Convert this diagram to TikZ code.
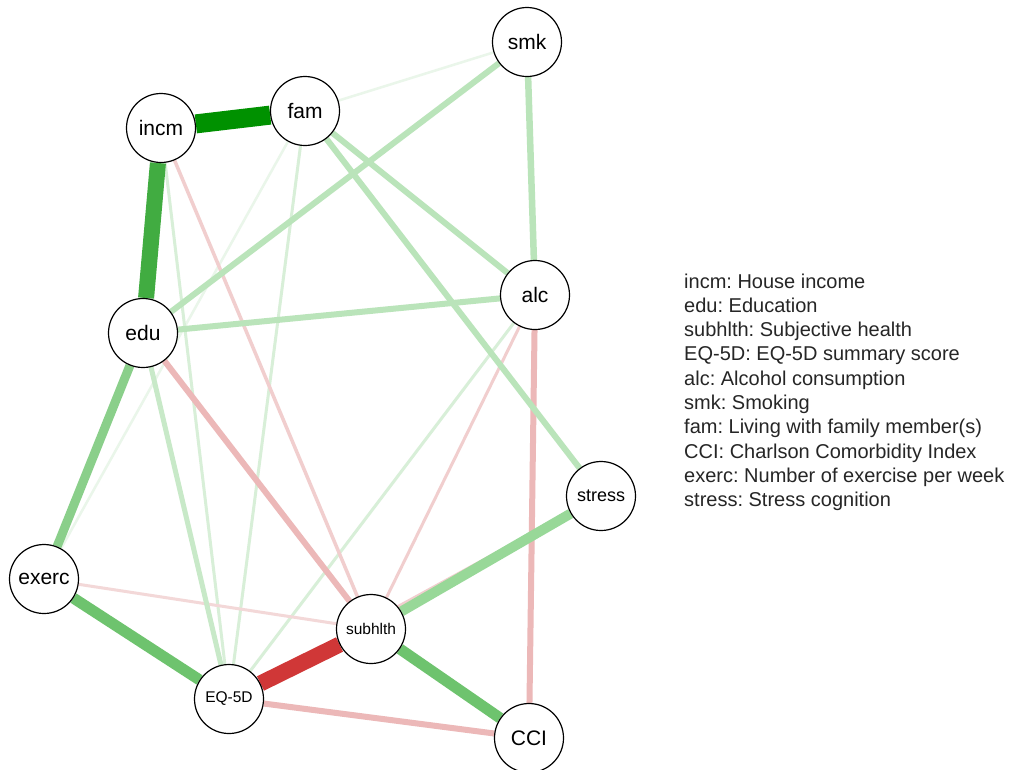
\documentclass[tikz,border=0pt]{standalone}
\usepackage{fontspec}
\setmainfont{Liberation Sans}
\frenchspacing
\pgfdeclarelayer{bg}
\pgfdeclarelayer{edgelayer}
\pgfsetlayers{bg,edgelayer,main}
\definecolor{gdark}{RGB}{0,145,0}
\definecolor{gmid}{RGB}{65,172,65}
\definecolor{gnorm}{RGB}{110,195,110}
\definecolor{gsoft}{RGB}{138,207,138}
\definecolor{gpale}{RGB}{152,216,152}
\definecolor{glight}{RGB}{186,228,186}
\definecolor{gthin}{RGB}{200,233,200}
\definecolor{gvthin}{RGB}{216,239,216}
\definecolor{gfaint}{RGB}{234,246,234}
\definecolor{rstrong}{RGB}{208,55,55}
\definecolor{pnorm}{RGB}{236,184,184}
\definecolor{plight}{RGB}{241,206,206}
\definecolor{pfaint}{RGB}{243,216,216}
\tikzset{
  var/.style={circle,draw=black,line width=1.2pt,fill=white,minimum size=69pt,inner sep=0pt,font=\fontsize{21}{24}\selectfont},
  varsmall/.style={var,font=\fontsize{15.5}{18}\selectfont},
  varmid/.style={var,font=\fontsize{18}{21}\selectfont},
  edge/.style={line cap=butt},
  legend/.style={anchor=base west,inner sep=0pt,font=\fontsize{20}{24}\selectfont,text=black!85}
}
\begin{document}
\begin{tikzpicture}[x=1pt,y=-1pt]
\useasboundingbox (0,0) rectangle (1011,769);
\begin{pgfonlayer}{bg}
\fill[white] (0,0) rectangle (1011,769);
\end{pgfonlayer}
% nodes
\node[var] (smk) at (527,42) {smk};
\node[var] (fam) at (305,111) {fam};
\node[var] (incm) at (161,128) {incm};
\node[var] (alc) at (535,295) {alc};
\node[var] (edu) at (143,333) {edu};
\node[varmid] (stress) at (601,496) {stress};
\node[var] (exerc) at (44,579) {exerc};
\node[varsmall] (subhlth) at (371,629) {subhlth};
\node[varsmall] (eq) at (229,699) {EQ-5D};
\node[var] (cci) at (529,738) {CCI};
% edges
\begin{pgfonlayer}{edgelayer}
\draw[edge,gfaint,line width=2.5pt] (fam) -- (smk);
\draw[edge,gfaint,line width=2.5pt] (fam) -- (exerc);
\draw[edge,plight,line width=3.5pt] (eq) -- (stress);
\draw[edge,gvthin,line width=3pt] (incm) -- (eq);
\draw[edge,gvthin,line width=3pt] (fam) -- (eq);
\draw[edge,gvthin,line width=3pt] (alc) -- (eq);
\draw[edge,pfaint,line width=3pt] (exerc) -- (subhlth);
\draw[edge,plight,line width=3pt] (alc) -- (subhlth);
\draw[edge,plight,line width=3.5pt] (incm) -- (subhlth);
\draw[edge,gthin,line width=5pt] (edu) -- (eq);
\draw[edge,pnorm,line width=6pt] (edu) -- (subhlth);
\draw[edge,pnorm,line width=6pt] (eq) -- (cci);
\draw[edge,pnorm,line width=6pt] (alc) -- (cci);
\draw[edge,glight,line width=6pt] (smk) -- (edu);
\draw[edge,glight,line width=6.5pt] (smk) -- (alc);
\draw[edge,glight,line width=6pt] (fam) -- (alc);
\draw[edge,glight,line width=6pt] (fam) -- (stress);
\draw[edge,glight,line width=6pt] (edu) -- (alc);
\draw[edge,gpale,line width=10pt] (subhlth) -- (stress);
\draw[edge,gsoft,line width=9pt] (edu) -- (exerc);
\draw[edge,gnorm,line width=11pt] (exerc) -- (eq);
\draw[edge,gnorm,line width=11pt] (subhlth) -- (cci);
\draw[edge,rstrong,line width=16pt] (eq) -- (subhlth);
\draw[edge,gmid,line width=16pt] (incm) -- (edu);
\draw[edge,gdark,line width=19pt] (incm) -- (fam);
\end{pgfonlayer}
% legend
\node[legend] (l1) at (684,288) {incm: House income};
\node[legend] (l2) at (684,312.3) {edu: Education};
\node[legend] (l3) at (684,336.6) {subhlth: Subjective health};
\node[legend] (l4) at (684,360.9) {EQ-5D: EQ-5D summary score};
\node[legend] (l5) at (684,385.2) {alc: Alcohol consumption};
\node[legend] (l6) at (684,409.5) {smk: Smoking};
\node[legend] (l7) at (684,433.8) {fam: Living with family member(s)};
\node[legend] (l8) at (684,458.1) {CCI: Charlson Comorbidity Index};
\node[legend] (l9) at (684,482.4) {exerc: Number of exercise per week};
\node[legend] (l10) at (684,506.7) {stress: Stress cognition};
\end{tikzpicture}
\end{document}
